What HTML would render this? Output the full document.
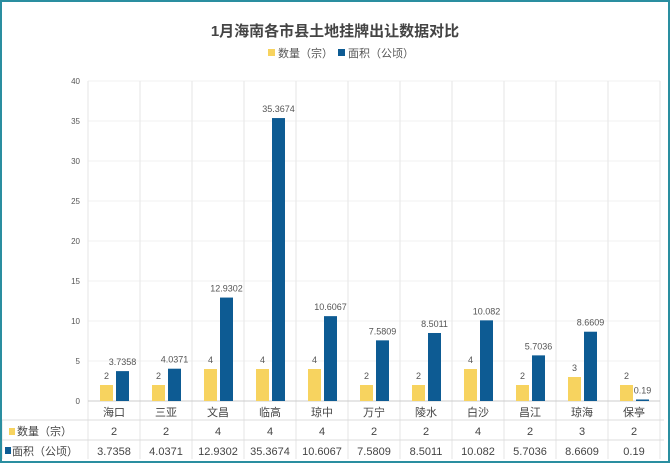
<!DOCTYPE html>
<html><head><meta charset="utf-8"><style>
body{margin:0;background:#fff;font-family:"Liberation Sans","Noto Sans CJK SC",sans-serif;}
#wrap{position:relative;width:666px;height:459px;border:2px solid #2a8ea0;overflow:hidden;}
</style></head><body>
<div id="wrap">
<svg id="chart" width="666" height="459"></svg>
</div>
<script>
const categories=["海口","三亚","文昌","临高","琼中","万宁","陵水","白沙","昌江","琼海","保亭"];
const countValues=[2,2,4,4,4,2,2,4,2,3,2];
const areaValues=[3.7358,4.0371,12.9302,35.3674,10.6067,7.5809,8.5011,10.082,5.7036,8.6609,0.19];
const yTicks=[0,5,10,15,20,25,30,35,40];
const svg=document.getElementById('chart');
const NS='http://www.w3.org/2000/svg';
const ox=-2,oy=-2;
const left=88,colW=52,yMin=0,yMax=40,yTop=81,yBot=401;
const y=v=>yBot-(v-yMin)/(yMax-yMin)*(yBot-yTop);
const xc=i=>left+colW*i+colW/2;
function add(tag,attrs,text){const e=document.createElementNS(NS,tag);for(const k in attrs)e.setAttribute(k,attrs[k]);if(text!==undefined)e.textContent=text;svg.appendChild(e);return e;}
const g=add('g',{transform:`translate(${ox},${oy})`});
function a(tag,attrs,text){const e=add(tag,attrs,text);g.appendChild(e);return e;}
let t=a('text',{x:335,y:36,'text-anchor':'middle','font-size':15,'font-weight':'bold',fill:'#444'},'1月海南各市县土地挂牌出让数据对比');

let l1=a('rect',{x:268,y:49,width:7,height:7,fill:'#f7d35f'});
let lt1=a('text',{x:278,y:57,'font-size':11,fill:'#555'},'数量（宗）');
let l2=a('rect',{x:338,y:49,width:7,height:7,fill:'#0d5b93'});
let lt2=a('text',{x:348,y:57,'font-size':11,fill:'#555'},'面积（公顷）');
yTicks.forEach(v=>{
 let gl=a('line',{x1:left,x2:left+colW*categories.length,y1:y(v),y2:y(v),stroke:'#f0f0f0'});
 
 let tl=a('text',{x:80,y:y(v)+3,'text-anchor':'end','font-size':8,fill:'#555'},v);
 
});
for(let i=0;i<=categories.length;i++){
 let vl=a('line',{x1:left+colW*i,x2:left+colW*i,y1:yTop,y2:459,stroke:'#e6e6e6'});
 
}
[420,440].forEach(yy=>{let hl=a('line',{x1:2,x2:664,y1:yy,y2:yy,stroke:'#dcdcdc'});});
let ax=a('line',{x1:left,x2:left+colW*categories.length,y1:yBot,y2:yBot,stroke:'#ccc'});
let v0=a('line',{x1:2,x2:2,y1:420,y2:459,stroke:'#dcdcdc'});
categories.forEach((c,i)=>{
 const cx=xc(i);
 let b1=a('rect',{x:cx-14,y:y(countValues[i]),width:13,height:y(0)-y(countValues[i]),fill:'#f7d35f'});
 
 let b2=a('rect',{x:cx+2,y:y(areaValues[i]),width:13,height:Math.max(1,y(0)-y(areaValues[i])),fill:'#0d5b93'});
 
 let t1=a('text',{x:cx-7.5,y:y(countValues[i])-6,'text-anchor':'middle','font-size':9,fill:'#555'},countValues[i]);
 
 let t2=a('text',{x:cx+8.5,y:y(areaValues[i])-6,'text-anchor':'middle','font-size':9,fill:'#555'},areaValues[i]);
 
 let ct=a('text',{x:cx,y:416,'text-anchor':'middle','font-size':11,fill:'#444'},c);
 
 let r1=a('text',{x:cx,y:435,'text-anchor':'middle','font-size':11,fill:'#444'},countValues[i]);
 
 let r2=a('text',{x:cx,y:455,'text-anchor':'middle','font-size':11,fill:'#444'},areaValues[i]);
 
});
let s1=a('rect',{x:9,y:428,width:6,height:7,fill:'#f7d35f'});
let h1=a('text',{x:17,y:435,'font-size':11,fill:'#444'},'数量（宗）');
let s2=a('rect',{x:5,y:447,width:6,height:7,fill:'#0d5b93'});
let h2=a('text',{x:12,y:455,'font-size':11,fill:'#444'},'面积（公顷）');
</script>
</body></html>
